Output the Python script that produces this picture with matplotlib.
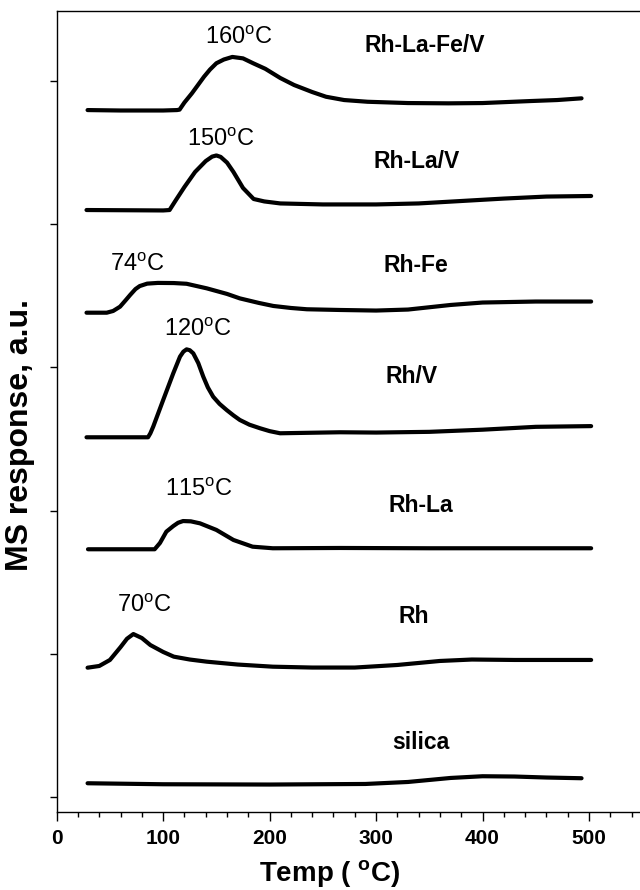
import matplotlib
matplotlib.use('Agg')
import matplotlib.pyplot as plt
from matplotlib import font_manager
from matplotlib.ticker import FixedLocator, MultipleLocator

# ---------------- data (temperature in degC, MS response in a.u.) ----------------
t_rhlafev = [29, 60, 100, 113, 115.4, 120, 127, 133, 138.4, 144, 150, 157, 165, 175, 184.5, 196, 210, 223, 240, 253, 270, 292, 330, 368, 400, 445, 470, 493]
y_rhlafev = [4.797, 4.794, 4.794, 4.797, 4.800, 4.850, 4.914, 4.975, 5.030, 5.080, 5.124, 5.150, 5.168, 5.158, 5.124, 5.085, 5.021, 4.972, 4.923, 4.890, 4.867, 4.855, 4.846, 4.844, 4.846, 4.860, 4.867, 4.879]

t_rhlav = [28, 100, 106, 112, 120, 130, 140, 146, 150, 154, 160, 166, 175, 185, 195, 210, 250, 300, 340, 380, 420, 460, 502]
y_rhlav = [4.099, 4.096, 4.099, 4.169, 4.260, 4.365, 4.441, 4.472, 4.480, 4.470, 4.430, 4.365, 4.253, 4.176, 4.159, 4.145, 4.138, 4.138, 4.145, 4.162, 4.179, 4.193, 4.197]

t_rhfe = [28, 47, 53, 59.5, 65, 69, 74, 78, 85, 95, 110, 122, 141, 160, 172, 190, 203.5, 220, 235, 266, 300, 330, 370, 400, 450, 502]
y_rhfe = [3.382, 3.382, 3.394, 3.424, 3.471, 3.506, 3.547, 3.568, 3.585, 3.590, 3.589, 3.584, 3.552, 3.513, 3.482, 3.450, 3.429, 3.415, 3.406, 3.401, 3.397, 3.404, 3.436, 3.453, 3.460, 3.460]

t_rhv = [28, 85.8, 88, 90.7, 100, 109.5, 115.8, 119, 122, 125, 128.3, 133, 137.7, 142, 147, 153, 159.7, 166, 172, 181, 191, 200, 209.8, 266, 300, 350, 400, 450, 502]
y_rhv = [2.512, 2.512, 2.540, 2.587, 2.772, 2.959, 3.075, 3.110, 3.126, 3.120, 3.098, 3.030, 2.935, 2.860, 2.795, 2.745, 2.702, 2.665, 2.633, 2.600, 2.575, 2.555, 2.540, 2.547, 2.545, 2.550, 2.565, 2.585, 2.590]

t_rhla = [29.4, 92, 97, 103, 109.5, 114, 118.7, 126, 134.6, 150, 166, 184, 203, 266, 350, 420, 502]
y_rhla = [1.730, 1.730, 1.774, 1.853, 1.892, 1.915, 1.927, 1.925, 1.911, 1.865, 1.795, 1.748, 1.737, 1.739, 1.737, 1.737, 1.737]

t_rh = [29, 40, 50, 60, 66, 72, 80, 88, 100, 110, 125, 141, 170, 203, 240, 280, 320, 360, 390, 430, 470, 502]
y_rh = [0.903, 0.915, 0.957, 1.047, 1.105, 1.138, 1.110, 1.061, 1.013, 0.980, 0.960, 0.945, 0.925, 0.910, 0.904, 0.904, 0.922, 0.950, 0.960, 0.957, 0.957, 0.957]

t_silica = [29, 100, 200, 290, 330, 370, 400, 430, 460, 493]
y_silica = [0.096, 0.089, 0.087, 0.091, 0.105, 0.133, 0.145, 0.143, 0.136, 0.131]

series_names = ['Rh-La-Fe/V', 'Rh-La/V', 'Rh-Fe', 'Rh/V', 'Rh-La', 'Rh', 'silica']
name_pos_t = [345.5, 337.8, 337, 333.7, 342, 335, 342]
name_pos_y = [5.251, 4.437, 3.715, 2.933, 2.039, 1.257, 0.384]

peak_labels = ['160', '150', '74', '120', '115', '70']
peak_pos_t = [171, 153.8, 75.2, 132.7, 133.4, 82.3]
peak_pos_y = [5.298, 4.588, 3.715, 3.261, 2.144, 1.336]

x_major = [0, 100, 200, 300, 400, 500]
y_major = [0, 1, 2, 3, 4, 5]

# ---------------- fonts ----------------
names = {f.name for f in font_manager.fontManager.ttflist}
NARROW = 'Liberation Sans Narrow' if 'Liberation Sans Narrow' in names else 'Liberation Sans'
BASE = 'Liberation Sans'
plt.rcParams['mathtext.fontset'] = 'custom'
plt.rcParams['mathtext.rm'] = BASE
plt.rcParams['mathtext.bf'] = NARROW + ':bold'
plt.rcParams['mathtext.it'] = BASE + ':italic'

W, H = 640, 890
fig = plt.figure(figsize=(W / 100, H / 100), dpi=100)
left_px, right_px, top_px, bot_px = 56.7, 645, 11, 811.7
ax = fig.add_axes([left_px / W, (H - bot_px) / H, (right_px - left_px) / W, (bot_px - top_px) / H])

series_t = [t_rhlafev, t_rhlav, t_rhfe, t_rhv, t_rhla, t_rh, t_silica]
series_y = [y_rhlafev, y_rhlav, y_rhfe, y_rhv, y_rhla, y_rh, y_silica]
for tt, yy in zip(series_t, series_y):
    ax.plot(tt, yy, color='black', lw=3.0, solid_capstyle='round', solid_joinstyle='round')

for nm, tx, ty in zip(series_names, name_pos_t, name_pos_y):
    ax.text(tx, ty, nm, ha='center', va='center', fontsize=16.5, fontweight='bold', family=NARROW)

for lb, tx, ty in zip(peak_labels, peak_pos_t, peak_pos_y):
    ax.text(tx, ty, lb + r'$^{\mathrm{o}}$C', ha='center', va='center', fontsize=17, family=BASE)

xpx_per_unit = (589 - 56.7) / 500
ax.set_xlim(0, (right_px - left_px) / xpx_per_unit)
ypx_per_unit = 143.2
ax.set_ylim(-(bot_px - 797) / ypx_per_unit, (797 - top_px) / ypx_per_unit)

ax.xaxis.set_major_locator(FixedLocator(x_major))
ax.xaxis.set_minor_locator(MultipleLocator(20))
ax.set_yticks(y_major)
ax.set_yticklabels([])
ax.tick_params(axis='x', which='major', direction='out', length=6.5, width=1.0, pad=6, labelsize=15)
ax.tick_params(axis='x', which='minor', direction='out', length=3.6, width=1.0)
ax.tick_params(axis='y', which='major', direction='out', length=5, width=1.0)
for lab in ax.get_xticklabels():
    lab.set_fontweight('bold')
    lab.set_family(BASE)
for s in ['left', 'bottom', 'top', 'right']:
    ax.spines[s].set_linewidth(1.0)
ax.spines['right'].set_visible(False)

fig.text(330 / W, 1 - 881 / H, r'Temp ( $^{\mathbf{o}}$C)', ha='center', va='baseline',
         fontsize=20, fontweight='bold', family=NARROW)
fig.text(20 / W, 1 - 435 / H, 'MS response, a.u.', rotation=90, ha='center', va='center',
         fontsize=23, fontweight='bold', family=BASE)

fig.savefig('out.png', dpi=100)
